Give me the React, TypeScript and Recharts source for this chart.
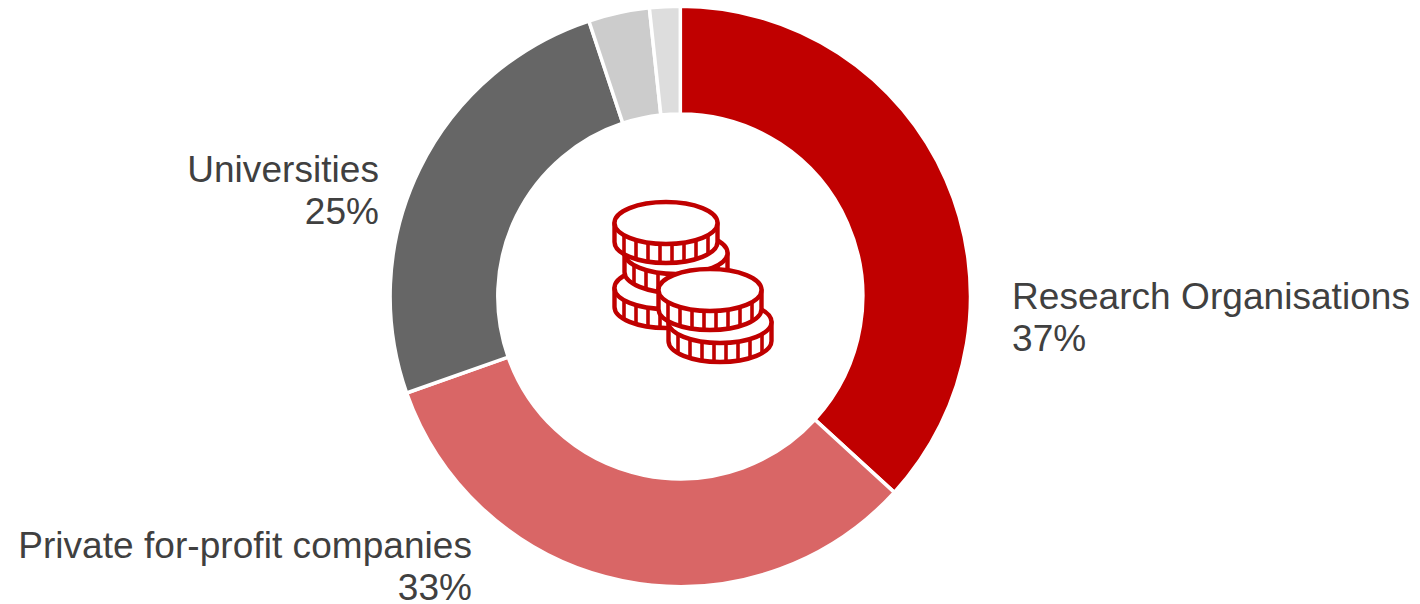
import React from "react";
import { PieChart, Pie, Cell } from "recharts";

const categories = ["Research Organisations", "Private for-profit companies", "Universities", "Other A", "Other B"];
const shares = [36.8, 32.8, 25.3, 3.4, 1.7];
const percentLabels = ["37%", "33%", "25%", "", ""];
const colors = ["#C00000", "#D96666", "#666666", "#CCCCCC", "#DDDDDD"];

const rows = categories.map((name, i) => ({ name, value: shares[i], pct: percentLabels[i] }));

const labelPlacement: Record<string, { x: number; y: number; anchor: string }> = {
  "Research Organisations": { x: 1012, y: 309, anchor: "start" },
  "Private for-profit companies": { x: 472, y: 558, anchor: "end" },
  Universities: { x: 379, y: 182, anchor: "end" },
};

const FONT = "'Liberation Sans', Arial, sans-serif";

const renderLabel = (p: any) => {
  const at = labelPlacement[p.name];
  if (!at) return null;
  return (
    <text x={at.x} y={at.y} textAnchor={at.anchor} fontFamily={FONT} fontSize={37} fill="#404040" letterSpacing={0.05}>
      <tspan x={at.x}>{p.name}</tspan>
      <tspan x={at.x} dy={42}>{p.pct}</tspan>
    </text>
  );
};

const RED = "#C00000";

function Coin({ cx, cy }: { cx: number; cy: number }) {
  const rx = 51.5, ry = 21, h = 19;
  const offs = [-42, -30, -18, -6, 6, 18, 30, 42];
  return (
    <g stroke={RED} strokeWidth={4.4} fill="#fff">
      <path d={`M${cx - rx} ${cy} V${cy + h} A${rx} ${ry} 0 0 0 ${cx + rx} ${cy + h} V${cy} Z`} strokeLinejoin="round" />
      {offs.map((d) => {
        const y = cy + ry * Math.sqrt(1 - (d / rx) ** 2);
        return <line key={d} x1={cx + d} x2={cx + d} y1={y} y2={y + h} strokeWidth={3.6} />;
      })}
      <ellipse cx={cx} cy={cy} rx={rx} ry={ry} />
    </g>
  );
}

export default function App() {
  return (
    <div style={{ position: "absolute", left: 0, top: 0, width: 1420, height: 604 }}>
      <PieChart width={1420} height={604} margin={{ top: 0, right: 0, bottom: 0, left: 0 }}>
        <Pie
          data={rows}
          dataKey="value"
          nameKey="name"
          cx={680.3}
          cy={296.4}
          innerRadius={182.5}
          outerRadius={290.2}
          startAngle={90}
          endAngle={-270}
          stroke="#fff"
          strokeWidth={3.5}
          label={renderLabel}
          labelLine={false}
          isAnimationActive={false}
        >
          {rows.map((r, i) => (
            <Cell key={r.name} fill={colors[i]} />
          ))}
        </Pie>
      </PieChart>
      <svg width={1420} height={604} style={{ position: "absolute", left: 0, top: 0, pointerEvents: "none" }}>
        <Coin cx={666} cy={288} />
        <Coin cx={676} cy={253} />
        <Coin cx={666} cy={223} />
        <Coin cx={720} cy={322} />
        <Coin cx={710} cy={290} />
      </svg>
    </div>
  );
}
